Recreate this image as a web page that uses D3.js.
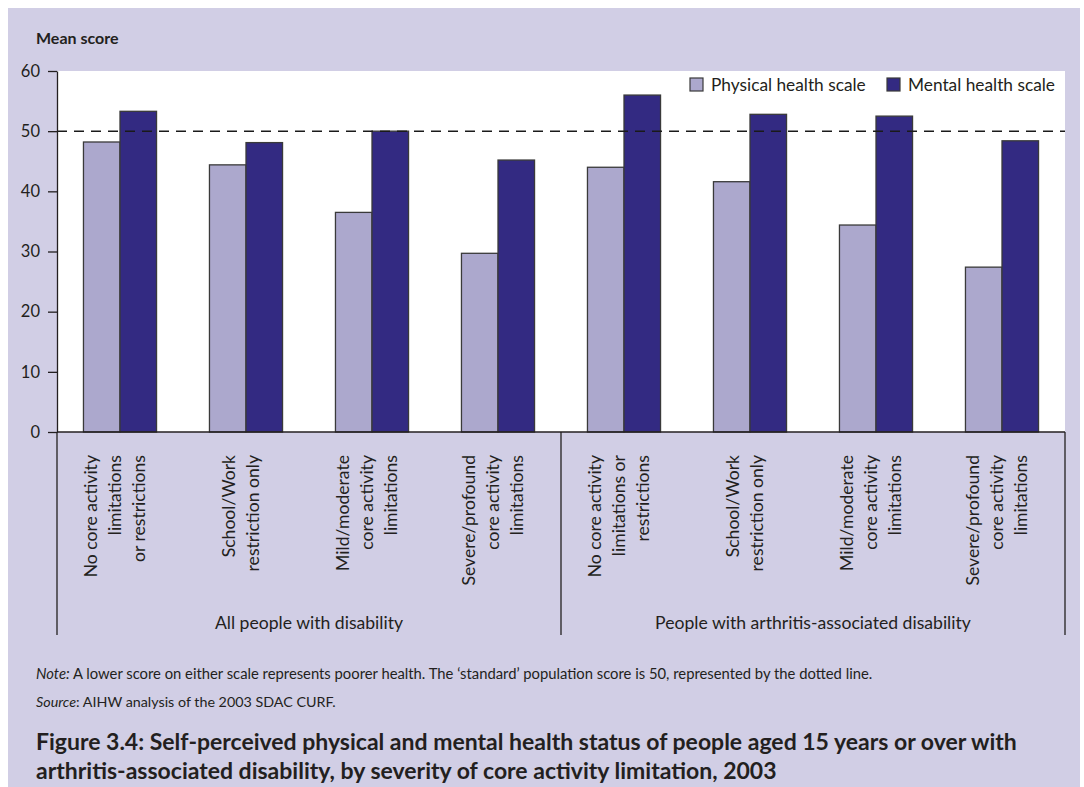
<!DOCTYPE html>
<html>
<head>
<meta charset="utf-8">
<script src="https://cdn.jsdelivr.net/npm/d3@7"></script>
<style>
  body { margin: 0; background: #fff; }
  svg { display: block; font-family: Lato, "Open Sans", sans-serif; }
</style>
</head>
<body>
<div id="viz"></div>
<script>
// Chart values
const categories = [
  ["No core activity", "limitations", "or restrictions"],
  ["School/Work", "restriction only"],
  ["Mild/moderate", "core activity", "limitations"],
  ["Severe/profound", "core activity", "limitations"],
  ["No core activity", "limitations or", "restrictions"],
  ["School/Work", "restriction only"],
  ["Mild/moderate", "core activity", "limitations"],
  ["Severe/profound", "core activity", "limitations"]
];
const groups = ["All people with disability", "People with arthritis-associated disability"];
const groupSize = 4;
const physical = [48.2, 44.4, 36.5, 29.7, 44.0, 41.6, 34.4, 27.4];
const mental = [53.3, 48.1, 50.0, 45.2, 56.0, 52.8, 52.5, 48.4];
const seriesNames = ["Physical health scale", "Mental health scale"];
const yTicks = [0, 10, 20, 30, 40, 50, 60];
const standardScore = 50;

const WIDTH = 1084, HEIGHT = 787;
const COLORS = { bg: "#d1cee5", physical: "#aca8cd", mental: "#332a82", ink: "#231f20" };
const MARGIN = { left: 57, right: 19, top: 71, bottom: 355 };

const svg = d3.select("#viz").append("svg")
  .attr("width", WIDTH)
  .attr("height", HEIGHT);

// lavender panel
svg.append("rect")
  .attr("x", 8).attr("y", 8)
  .attr("width", 1072).attr("height", HEIGHT - 8)
  .attr("fill", COLORS.bg);

const innerWidth = WIDTH - MARGIN.left - MARGIN.right;
const innerHeight = HEIGHT - MARGIN.top - MARGIN.bottom;

const x = d3.scaleBand()
  .domain(d3.range(categories.length))
  .range([0, innerWidth])
  .paddingInner(0.42)
  .paddingOuter(0.21);

const xSub = d3.scaleBand()
  .domain([0, 1])
  .range([0, x.bandwidth()]);

const y = d3.scaleLinear()
  .domain([0, 60])
  .range([innerHeight, 0]);

const g = svg.append("g")
  .attr("transform", `translate(${MARGIN.left},${MARGIN.top})`);

// white plot area
g.append("rect")
  .attr("width", innerWidth)
  .attr("height", innerHeight)
  .attr("fill", "#fff");

svg.append("text")
  .attr("x", 36).attr("y", 44)
  .style("font-size", "16px")
  .style("font-weight", "bold")
  .attr("fill", COLORS.ink)
  .text("Mean score");

// bars
const rows = categories.map((c, i) => ({ i, values: [physical[i], mental[i]] }));
const barG = g.selectAll("g.cat")
  .data(rows)
  .join("g")
  .attr("class", "cat")
  .attr("transform", d => `translate(${x(d.i)},0)`);

barG.selectAll("rect")
  .data(d => d.values.map((v, k) => ({ v, k })))
  .join("rect")
  .attr("x", d => xSub(d.k))
  .attr("y", d => y(d.v))
  .attr("width", xSub.bandwidth())
  .attr("height", d => innerHeight - y(d.v))
  .attr("fill", d => d.k === 0 ? COLORS.physical : COLORS.mental)
  .attr("stroke", "#3a3a3a")
  .attr("stroke-width", 1.3);

// standard score line
g.append("line")
  .attr("x1", 0).attr("x2", innerWidth)
  .attr("y1", y(standardScore)).attr("y2", y(standardScore))
  .attr("stroke", "#1a1a1a")
  .attr("stroke-width", 1.5)
  .attr("stroke-dasharray", "10,7");

// y axis
const yAxis = g.append("g")
  .call(d3.axisLeft(y).tickValues(yTicks).tickSize(9).tickPadding(8).tickSizeOuter(0));
yAxis.select(".domain").attr("stroke", "#231f20").attr("stroke-width", 1.3);
yAxis.selectAll(".tick line").attr("stroke", "#231f20").attr("stroke-width", 1.3);
yAxis.selectAll("text")
  .style("font-size", "16.5px")
  .style("font-family", "Lato, sans-serif")
  .attr("fill", COLORS.ink);

// x axis baseline
g.append("line")
  .attr("x1", 0).attr("x2", innerWidth)
  .attr("y1", innerHeight).attr("y2", innerHeight)
  .attr("stroke", "#231f20").attr("stroke-width", 1.3);

// group dividers
const dividers = d3.range(0, categories.length + 1, groupSize);
g.selectAll("line.div")
  .data(dividers)
  .join("line")
  .attr("class", "div")
  .attr("x1", d => d === categories.length ? innerWidth : x(d) - x.step() * x.paddingOuter())
  .attr("x2", d => d === categories.length ? innerWidth : x(d) - x.step() * x.paddingOuter())
  .attr("y1", innerHeight)
  .attr("y2", innerHeight + 203)
  .attr("stroke", "#231f20").attr("stroke-width", 1.3);

// category labels, rotated
const lineGap = 24;
g.selectAll("text.cat")
  .data(categories)
  .join("text")
  .attr("class", "cat")
  .attr("transform", (d, i) => `translate(${x(i) + x.bandwidth() / 2},${innerHeight + 23}) rotate(-90)`)
  .attr("text-anchor", "end")
  .style("font-size", "17.6px")
  .attr("fill", COLORS.ink)
  .each(function(lines) {
    const t = d3.select(this);
    lines.forEach((ln, j) => {
      t.append("tspan")
        .attr("x", 0)
        .attr("y", (j - (lines.length - 1) / 2) * lineGap + 1)
        .text(ln);
    });
  });

// group labels
g.selectAll("text.grp")
  .data(groups)
  .join("text")
  .attr("class", "grp")
  .attr("x", (d, i) => {
    const a = x(i * groupSize) - x.step() * x.paddingOuter();
    const last = (i + 1) * groupSize;
    const b = last === categories.length ? innerWidth : x(last) - x.step() * x.paddingOuter();
    return (a + b) / 2;
  })
  .attr("y", innerHeight + 197)
  .attr("text-anchor", "middle")
  .style("font-size", "17.6px")
  .attr("fill", COLORS.ink)
  .text(d => d);

// legend
const legend = svg.append("g").attr("transform", "translate(690,78)");
const legendX = [0, 197];
seriesNames.forEach((name, k) => {
  legend.append("rect")
    .attr("x", legendX[k]).attr("y", 0)
    .attr("width", 13).attr("height", 13)
    .attr("fill", k === 0 ? COLORS.physical : COLORS.mental)
    .attr("stroke", "#3a3a3a").attr("stroke-width", 1.2);
  legend.append("text")
    .attr("x", legendX[k] + 21).attr("y", 13)
    .style("font-size", "17.3px")
    .attr("fill", COLORS.ink)
    .text(name);
});

// note and source
const note = svg.append("text")
  .attr("x", 36).attr("y", 679)
  .style("font-size", "14.8px")
  .attr("fill", COLORS.ink);
note.append("tspan").style("font-style", "italic").text("Note:");
note.append("tspan").text(" A lower score on either scale represents poorer health. The \u2018standard\u2019 population score is 50, represented by the dotted line.");

const source = svg.append("text")
  .attr("x", 36).attr("y", 707)
  .style("font-size", "14.3px")
  .attr("fill", COLORS.ink);
source.append("tspan").style("font-style", "italic").text("Source");
source.append("tspan").text(": AIHW analysis of the 2003 SDAC CURF.");

// figure caption
const caption = [
  "Figure 3.4: Self-perceived physical and mental health status of people aged 15 years or over with",
  "arthritis-associated disability, by severity of core activity limitation, 2003"
];
svg.selectAll("text.cap")
  .data(caption)
  .join("text")
  .attr("class", "cap")
  .attr("x", 36)
  .attr("y", (d, i) => 750 + i * 29)
  .style("font-size", "23px")
  .style("font-weight", "bold")
  .attr("fill", COLORS.ink)
  .text(d => d);
</script>
</body>
</html>
